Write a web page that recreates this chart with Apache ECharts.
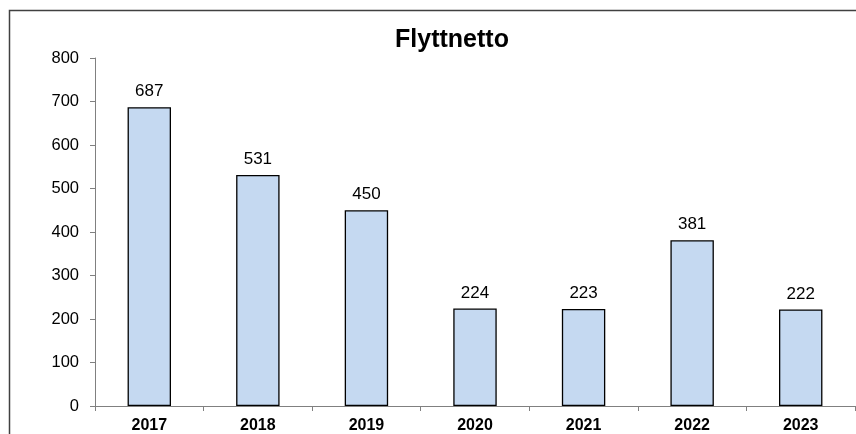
<!DOCTYPE html>
<html><head><meta charset="utf-8">
<script src="https://cdn.jsdelivr.net/npm/echarts@6/dist/echarts.min.js"></script>
<style>html,body{margin:0;padding:0;background:#fff}#c{width:856px;height:434px}</style>
</head><body><div id="c"></div>
<script>
const categories = ['2017','2018','2019','2020','2021','2022','2023'];
const values = [687, 531, 450, 224, 223, 381, 222];
const yTicks = [0, 100, 200, 300, 400, 500, 600, 700, 800];

const chart = echarts.init(document.getElementById('c'), null, {renderer:'canvas'});
chart.setOption({
  animation: false,
  backgroundColor: '#fff',
  title: {
    text: 'Flyttnetto', left: 447, top: 23, textAlign: 'center',
    textStyle: {fontFamily: 'Liberation Sans, Arial', fontSize: 25, fontWeight: 'bold', color: '#000'}
  },
  graphic: [{
    type: 'polyline', silent: true,
    shape: {points: [[9.5, 440], [9.5, 10.5], [860, 10.5]]},
    style: {stroke: '#404040', lineWidth: 1.5, fill: null}
  }],
  grid: {left: 95, right: 1, top: 58, bottom: 27, containLabel: false},
  xAxis: {
    type: 'category', data: categories,
    axisLine: {lineStyle: {color: '#808080', width: 1}},
    axisTick: {show: true, alignWithLabel: false, length: 5, lineStyle: {color: '#808080'}},
    axisLabel: {fontFamily: 'Liberation Sans, Arial', fontSize: 16, fontWeight: 'bold', color: '#000', margin: 12}
  },
  yAxis: {
    type: 'value', min: yTicks[0], max: yTicks[yTicks.length-1], interval: 100,
    axisLine: {show: true, lineStyle: {color: '#808080', width: 1}},
    axisTick: {show: true, length: 5, lineStyle: {color: '#808080'}},
    splitLine: {show: false},
    axisLabel: {fontFamily: 'Liberation Sans, Arial', fontSize: 16.5, color: '#000', margin: 16}
  },
  series: [{
    type: 'bar', data: values, barWidth: '40%',
    itemStyle: {color: '#c5d9f1', borderColor: '#000', borderWidth: 1.3},
    label: {show: true, position: 'top', distance: 7, fontFamily: 'Liberation Sans, Arial', fontSize: 17, color: '#000'}
  }]
});
</script></body></html>
